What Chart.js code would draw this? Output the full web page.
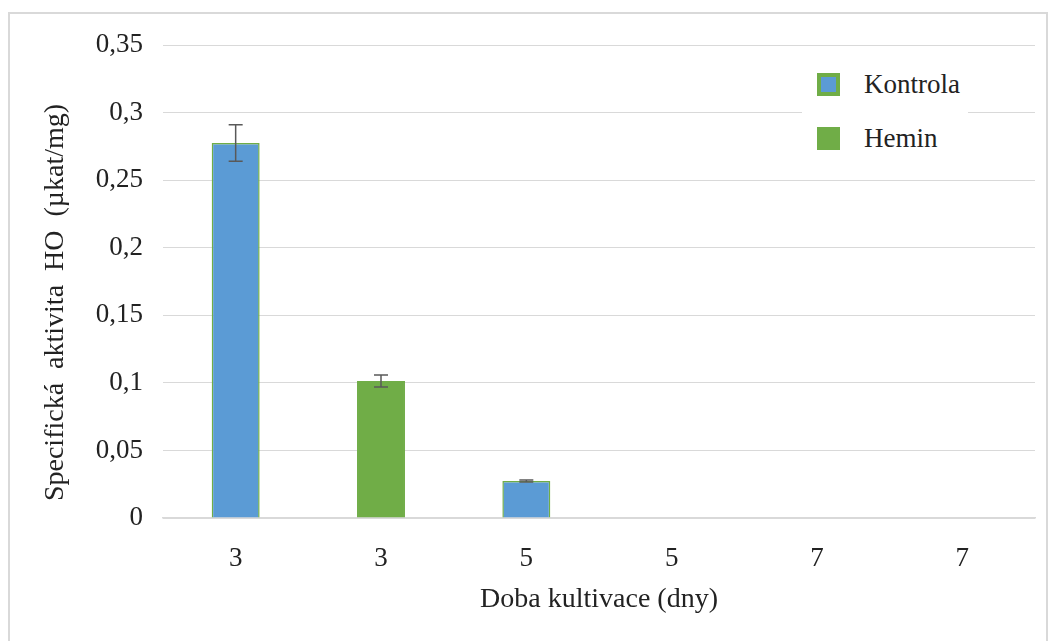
<!DOCTYPE html>
<html>
<head>
<meta charset="utf-8">
<script src="https://cdn.jsdelivr.net/npm/chart.js@4.4.0/dist/chart.umd.min.js"></script>
<style>
  body { margin: 0; background: #fff; }
  #wrap { position: relative; width: 1057px; height: 641px; }
  #frame { position: absolute; left: 8px; top: 12px; width: 1040px; height: 640px; border: 2px solid #d9d9d9; box-sizing: border-box; pointer-events: none; }
  #legend { position: absolute; left: 802px; top: 58px; width: 166px; height: 112px; background: #fff; font-family: "Liberation Serif", serif; font-size: 27px; color: #222; }
  .item { position: absolute; left: 15px; height: 24px; }
  .box { position: absolute; left: 0; top: 0; width: 23px; height: 23px; box-sizing: border-box; }
  .lbl { position: absolute; left: 47px; top: 0; line-height: 23px; white-space: nowrap; }
</style>
</head>
<body>
<div id="wrap">
  <canvas id="myChart" width="1057" height="641"></canvas>
  <div id="frame"></div>
  <div id="legend"></div>
</div>
<script>
// data
const categories = ['3', '3', '5', '5', '7', '7'];
const seriesNames = ['Kontrola', 'Hemin'];
const kontrola = [0.2775, null, 0.0274, null, 0, null];
const hemin = [null, 0.1014, null, 0, null, 0];
const kontrolaErr = [0.0135, null, 0.0007, null, 0, null];
const heminErr = [null, 0.0045, null, 0, null, 0];
const yTicks = [0, 0.05, 0.1, 0.15, 0.2, 0.25, 0.3, 0.35];

const blue = '#5b9bd5';
const green = '#70ad47';

// error bars drawn through the chart's own scales
const errorBars = {
  id: 'errorBars',
  afterDatasetsDraw(chart) {
    const ctx = chart.ctx;
    const yScale = chart.scales.y;
    const errs = [kontrolaErr, heminErr];
    chart.data.datasets.forEach((ds, i) => {
      const meta = chart.getDatasetMeta(i);
      meta.data.forEach((bar, j) => {
        const v = ds.data[j];
        const e = errs[i][j];
        if (v == null || !e) return;
        const x = bar.x;
        const top = yScale.getPixelForValue(v + e);
        const bot = yScale.getPixelForValue(v - e);
        ctx.save();
        ctx.strokeStyle = '#595959';
        ctx.lineWidth = 1.5;
        ctx.beginPath();
        ctx.moveTo(x, top); ctx.lineTo(x, bot);
        ctx.moveTo(x - 7, top); ctx.lineTo(x + 7, top);
        ctx.moveTo(x - 7, bot); ctx.lineTo(x + 7, bot);
        ctx.stroke();
        ctx.restore();
      });
    });
  }
};

const myChart = document.getElementById('myChart');

let barChart = new Chart(myChart, {
  type: 'bar',
  data: {
    labels: categories,
    datasets: [{
      label: seriesNames[0],
      data: kontrola,
      backgroundColor: blue,
      borderColor: green,
      borderWidth: 1.5
    }, {
      label: seriesNames[1],
      data: hemin,
      backgroundColor: green,
      borderColor: green,
      borderWidth: 1
    }]
  },
  options: {
    responsive: false,
    animation: false,
    events: [],
    layout: { padding: { left: 35, right: 22, top: 45, bottom: 25 } },
    datasets: {
      bar: { skipNull: true, barPercentage: 0.33, categoryPercentage: 1, borderSkipped: 'bottom' }
    },
    plugins: {
      legend: { display: false },
      tooltip: { enabled: false }
    },
    scales: {
      x: {
        grid: { display: false },
        border: { color: '#d9d9d9', width: 1.5 },
        ticks: { color: '#222', padding: 17, font: { family: 'Liberation Serif', size: 27 } },
        title: {
          display: true,
          text: 'Doba kultivace (dny)',
          color: '#222',
          padding: 0,
          font: { family: 'Liberation Serif', size: 28 }
        },
        afterFit: s => { s.height = 98; }
      },
      y: {
        min: 0,
        max: 0.35,
        afterBuildTicks: s => { s.ticks = yTicks.map(v => ({ value: v })); },
        grid: { color: '#d9d9d9', lineWidth: 1, drawTicks: false },
        border: { display: false },
        ticks: {
          color: '#222',
          padding: 20,
          font: { family: 'Liberation Serif', size: 27 },
          callback: v => String(Math.round(v * 100) / 100).replace('.', ',')
        },
        title: {
          display: true,
          text: 'Specifická  aktivita  HO  (µkat/mg)      ',
          color: '#222',
          padding: 4,
          font: { family: 'Liberation Serif', size: 28 }
        },
        afterFit: s => { s.width = 128; }
      }
    }
  },
  plugins: [errorBars]
});

// legend built from the datasets
const legend = document.getElementById('legend');
barChart.data.datasets.forEach((ds, i) => {
  const item = document.createElement('div');
  item.className = 'item';
  item.style.top = (15 + i * 54) + 'px';
  const box = document.createElement('div');
  box.className = 'box';
  box.style.background = ds.backgroundColor;
  box.style.border = (i === 0 ? 4 : 1) + 'px solid ' + ds.borderColor;
  const lbl = document.createElement('div');
  lbl.className = 'lbl';
  lbl.textContent = ds.label;
  item.appendChild(box);
  item.appendChild(lbl);
  legend.appendChild(item);
});
</script>
</body>
</html>
